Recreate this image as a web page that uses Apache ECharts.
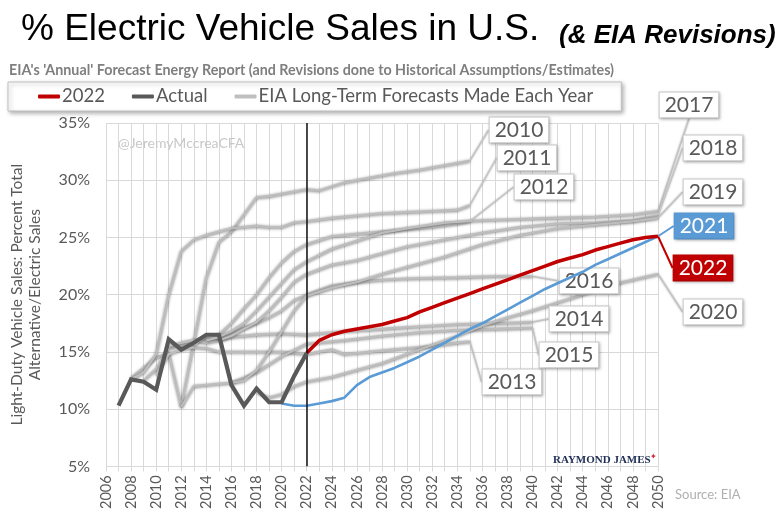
<!DOCTYPE html>
<html><head><meta charset="utf-8">
<script src="https://cdn.jsdelivr.net/npm/echarts@6/dist/echarts.min.js"></script>
<style>html,body{margin:0;padding:0;background:#fff}#c{width:780px;height:512px}</style>
</head><body><div id="c"></div>
<script>
// ---------------- DATA ----------------
const xTickYears = [2006, 2050];
const yTicks = [5, 35];

const actualYears  = [2007,2008,2009,2010,2011,2012,2013,2014,2015,2016,2017,2018,2019,2020,2021,2022];
const actualValues = [10.3,12.6,12.4,11.7,16.1,15.2,15.8,16.5,16.5,12.1,10.3,11.8,10.6,10.6,12.9,14.9];

const aeo2022Years  = [2022,2023,2024,2025,2026,2027,2028,2029,2030,2031,2032,2033,2034,2035,2036,2037,2038,2039,2040,2041,2042,2043,2044,2045,2046,2047,2048,2049,2050];
const aeo2022Values = [14.9,16.0,16.5,16.8,17.0,17.2,17.4,17.7,18.0,18.5,18.9,19.3,19.7,20.1,20.5,20.9,21.3,21.7,22.1,22.5,22.9,23.2,23.5,23.9,24.2,24.5,24.8,25.0,25.1];

const aeo2021Years  = [2020,2021,2022,2023,2024,2025,2026,2027,2028,2029,2030,2031,2032,2033,2034,2035,2036,2037,2038,2039,2040,2041,2042,2043,2044,2045,2046,2047,2048,2049,2050];
const aeo2021Values = [10.5,10.3,10.3,10.5,10.7,11.0,12.1,12.8,13.2,13.6,14.1,14.6,15.2,15.8,16.4,17.0,17.5,18.1,18.7,19.3,19.9,20.5,21.0,21.5,22.0,22.6,23.1,23.6,24.1,24.6,25.1];

// EIA long-term forecasts (report year -> [year, % share])
const aeo2010 = [[2008,12.7],[2009,13.6],[2010,14.5],[2011,14.9],[2012,10.2],[2013,15.8],[2014,21.5],[2015,24.6],[2016,25.5],[2017,27.0],[2018,28.5],[2019,28.6],[2020,28.8],[2021,29.0],[2022,29.2],[2023,29.1],[2025,29.8],[2027,30.2],[2029,30.6],[2031,30.9],[2033,31.3],[2035,31.7]];
const aeo2011 = [[2008,12.6],[2009,13.2],[2010,14.8],[2011,20.0],[2012,23.8],[2013,24.8],[2014,25.2],[2015,25.5],[2016,25.8],[2017,25.9],[2018,26.0],[2019,25.9],[2020,25.9],[2021,26.3],[2022,26.4],[2024,26.7],[2026,26.9],[2028,27.1],[2030,27.2],[2032,27.3],[2034,27.4],[2035,27.8]];
const aeo2012 = [[2009,12.5],[2010,13.5],[2011,15.3],[2012,15.6],[2013,15.9],[2014,16.2],[2015,16.5],[2016,17.5],[2017,18.8],[2018,20.0],[2019,21.5],[2020,22.8],[2021,23.8],[2022,24.4],[2024,25.1],[2026,25.3],[2028,25.5],[2030,25.7],[2032,25.9],[2034,26.2],[2035,26.4]];
const aeo2013 = [[2010,13.0],[2011,14.8],[2012,15.2],[2013,15.4],[2014,15.3],[2015,15.0],[2016,15.0],[2018,15.0],[2020,15.0],[2022,14.8],[2024,15.2],[2025,14.8],[2026,14.9],[2028,15.1],[2030,15.3],[2032,15.5],[2034,15.8],[2035,15.9]];
const aeo2014 = [[2011,15.5],[2012,15.8],[2013,16.0],[2014,15.8],[2015,16.0],[2016,16.3],[2018,16.5],[2020,16.6],[2022,16.5],[2025,16.8],[2028,17.0],[2031,17.2],[2034,17.4],[2037,17.5],[2040,17.6]];
const aeo2015 = [[2012,10.2],[2013,12.0],[2014,12.1],[2015,12.2],[2016,12.3],[2018,13.2],[2020,14.6],[2022,15.7],[2025,16.0],[2028,16.4],[2031,16.7],[2034,16.9],[2037,17.0],[2040,17.1]];
const aeo2016 = [[2013,15.6],[2014,16.4],[2015,16.2],[2016,16.6],[2017,17.1],[2018,17.5],[2019,18.0],[2020,18.6],[2021,19.5],[2022,20.0],[2024,20.8],[2026,21.1],[2028,21.3],[2030,21.4],[2034,21.5],[2037,21.6],[2040,21.6]];
const aeo2017 = [[2014,16.0],[2015,16.3],[2016,16.8],[2017,17.5],[2018,18.6],[2019,19.8],[2020,21.0],[2021,22.2],[2022,22.9],[2024,24.0],[2026,24.7],[2028,25.4],[2030,25.8],[2033,26.3],[2036,26.5],[2039,26.6],[2042,26.7],[2045,26.8],[2048,27.0],[2050,27.3]];
const aeo2018 = [[2015,16.0],[2016,16.4],[2017,17.0],[2018,17.6],[2019,18.6],[2020,19.8],[2021,21.1],[2022,21.8],[2024,22.6],[2026,23.0],[2028,23.6],[2030,24.2],[2033,24.8],[2036,25.4],[2039,25.9],[2042,26.2],[2045,26.3],[2048,26.5],[2050,26.9]];
const aeo2019 = [[2016,12.3],[2017,12.5],[2018,13.4],[2019,15.0],[2020,16.8],[2021,18.6],[2022,19.9],[2024,20.6],[2026,21.1],[2028,21.8],[2030,22.4],[2033,23.3],[2036,24.4],[2039,25.2],[2042,25.8],[2045,26.1],[2048,26.4],[2050,26.7]];
const aeo2020 = [[2018,11.5],[2019,11.0],[2020,11.3],[2021,12.0],[2022,12.4],[2024,12.8],[2026,13.4],[2028,14.0],[2030,14.8],[2032,15.6],[2034,16.4],[2036,17.3],[2038,18.0],[2040,18.6],[2042,19.3],[2044,20.0],[2046,20.8],[2048,21.3],[2050,21.8]];

const forecastNames = ['2010','2011','2012','2013','2014','2015','2016','2017','2018','2019','2020'];
const forecastData  = [aeo2010,aeo2011,aeo2012,aeo2013,aeo2014,aeo2015,aeo2016,aeo2017,aeo2018,aeo2019,aeo2020];

// ---------------- LAYOUT / STYLE ----------------
const labelPos = {
  '2010':[519,130],'2011':[527,158],'2012':[544,187],'2013':[512,382],'2014':[579,319],
  '2015':[569,355],'2016':[589,281],'2017':[689,105],'2018':[713,148],'2019':[713,192],
  '2020':[713,312],'2021':[704,226],'2022':[703,268]
};
const LBL_FONT = 'Lato, "Open Sans", sans-serif';
const grayName = 'EIA Long-Term Forecasts Made Each Year';

function pairs(xs, ys){ return xs.map((x,i)=>[x, ys[i]]); }
function withEndLabel(arr, name, style){
  return arr.map((p,i)=> i===arr.length-1
    ? {value:p, symbol:'circle', symbolSize:1, label:Object.assign({show:true, formatter:name}, style)}
    : {value:p});
}
function layoutFor(name){
  return function(){ const p = labelPos[name]; return {x:p[0], y:p[1], align:'center', verticalAlign:'middle'}; };
}
const boxStyle = {
  fontFamily: LBL_FONT, fontSize: 21, color:'#595959', backgroundColor:'#fff',
  borderColor:'#c9c9c9', borderWidth:1, padding:[3,5,1,5],
  shadowColor:'rgba(0,0,0,0.25)', shadowBlur:3, shadowOffsetX:1, shadowOffsetY:1
};

const series = [];
forecastData.forEach((arr, k) => {
  const nm = forecastNames[k];
  series.push({
    name: grayName, type:'line', z:2, symbol:'none', showSymbol:true, silent:true,
    color:'#bfbfbf',
    lineStyle:{color:'#bdbdbd', width:2.3, shadowColor:'rgba(0,0,0,0.55)', shadowBlur:3, shadowOffsetY:0.5},
    data: withEndLabel(arr, nm, boxStyle),
    labelLayout: layoutFor(nm),
    labelLine:{show:true, lineStyle:{color:'#c4c4c4', width:1.5, shadowColor:'rgba(0,0,0,0.3)', shadowBlur:2}}
  });
});
series.push({
  name:'2021', type:'line', z:3, symbol:'none', showSymbol:true, silent:true, color:'#5b9bd5',
  lineStyle:{color:'#5b9bd5', width:2.6},
  data: withEndLabel(pairs(aeo2021Years, aeo2021Values), '2021',
        Object.assign({}, boxStyle, {color:'#fff', backgroundColor:'#5b9bd5', borderColor:'#5b9bd5'})),
  labelLayout: layoutFor('2021'),
  labelLine:{show:true, lineStyle:{color:'#5b9bd5', width:2}}
});
series.push({
  name:'2022', type:'line', z:4, symbol:'none', showSymbol:true, silent:true, color:'#c00000',
  lineStyle:{color:'#c00000', width:3.5},
  data: withEndLabel(pairs(aeo2022Years, aeo2022Values), '2022',
        Object.assign({}, boxStyle, {color:'#fff', backgroundColor:'#c00000', borderColor:'#c00000'})),
  labelLayout: layoutFor('2022'),
  labelLine:{show:true, lineStyle:{color:'#c00000', width:2}}
});
series.push({
  name:'Actual', type:'line', z:5, symbol:'none', silent:true, color:'#595959',
  lineStyle:{color:'#595959', width:4.2, join:'miter'},
  data: pairs(actualYears, actualValues),
  markLine:{silent:true, symbol:'none', label:{show:false},
    lineStyle:{color:'#111', width:1.5, type:'solid'},
    data:[{xAxis:2022}]}
});

const gridColor = '#d9d9d9';
const option = {
  animation:false,
  backgroundColor:'#fff',
  title:[
    {text:'% Electric Vehicle Sales in U.S.', left:16, top:6,
     textStyle:{fontFamily:'"Liberation Sans", Arial, sans-serif', fontSize:37, fontWeight:'normal', color:'#000'}},
    {text:'(& EIA Revisions)', left:554, top:18,
     textStyle:{fontFamily:'"Liberation Sans", Arial, sans-serif', fontSize:26, fontWeight:'bold', fontStyle:'italic', color:'#000'}},
    {text:"EIA's 'Annual' Forecast Energy Report (and Revisions done to Historical Assumptions/Estimates)", left:4, top:58,
     textStyle:{fontFamily:LBL_FONT, fontSize:14.3, fontWeight:'bold', color:'#7f7f7f'}}
  ],
  legend:{
    left:8, top:82, padding:[5,28,5,30], itemGap:27, itemWidth:22, itemHeight:4, icon:'roundRect',
    backgroundColor:'#fff', borderColor:'#bfbfbf', borderWidth:1,
    shadowColor:'rgba(0,0,0,0.3)', shadowBlur:4, shadowOffsetX:2, shadowOffsetY:2,
    data:['2022','Actual', grayName],
    textStyle:{fontFamily:LBL_FONT, fontSize:18.5, color:'#595959', padding:[0,0,0,-3]}
  },
  grid:{left:98, right:122, top:123, bottom:43},
  xAxis:{
    type:'value', min:xTickYears[0], max:xTickYears[1], interval:2,
    axisLine:{show:false},
    axisTick:{show:true, length:5, lineStyle:{color:gridColor}},
    minorTick:{show:true, splitNumber:2, length:5, lineStyle:{color:gridColor}},
    splitLine:{show:true, lineStyle:{color:gridColor, width:1}},
    minorSplitLine:{show:true, lineStyle:{color:gridColor, width:1}},
    axisLabel:{rotate:90, margin:9, formatter:v=>String(v), fontFamily:LBL_FONT, fontSize:14.5, color:'#595959'}
  },
  yAxis:{
    type:'value', min:yTicks[0], max:yTicks[1], interval:5,
    name:'Light-Duty Vehicle Sales: Percent Total\nAlternative/Electric Sales',
    nameLocation:'middle', nameRotate:90, nameGap:62,
    nameTextStyle:{fontFamily:LBL_FONT, fontSize:15.5, color:'#595959', lineHeight:18},
    axisLine:{show:false}, axisTick:{show:false},
    splitLine:{lineStyle:{color:gridColor, width:1}},
    axisLabel:{formatter:v=>v+'%', margin:16, fontFamily:LBL_FONT, fontSize:16, color:'#595959'}
  },
  graphic:[
    {type:'text', left:118, top:136, z:1, style:{text:'@JeremyMccreaCFA', font:'14px '+LBL_FONT, fill:'#c8c8c8'}},
    {type:'text', left:553, top:455, z:10, style:{text:'RAYMOND JAMES', font:'bold 11px "Liberation Serif", serif', fill:'#1f2f55'}},
    {type:'text', left:650, top:453, z:10, style:{text:'✦', font:'8px sans-serif', fill:'#d0202f'}},
    {type:'text', left:675, top:488, style:{text:'Source: EIA', font:'13px '+LBL_FONT, fill:'#b0b0b0'}}
  ],
  series: series
};
const chart = echarts.init(document.getElementById('c'));
chart.setOption(option);
</script></body></html>
